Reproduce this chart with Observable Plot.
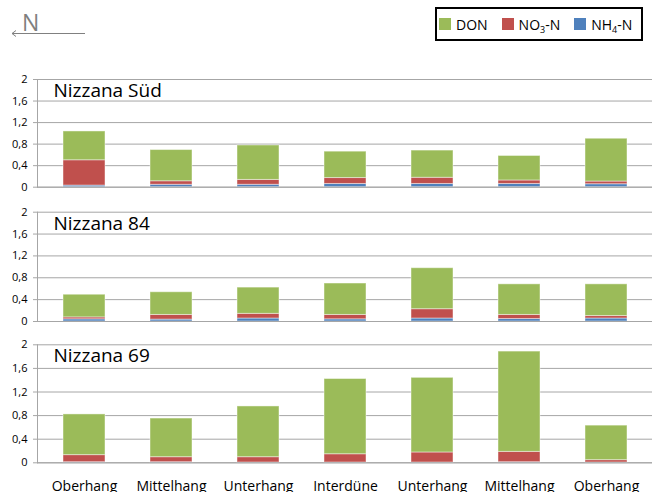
<!DOCTYPE html>
<html>
<head>
<meta charset="utf-8">
<script src="https://cdn.jsdelivr.net/npm/d3@7"></script>
<script src="https://cdn.jsdelivr.net/npm/@observablehq/plot@0.6"></script>
<style>
  html, body { margin: 0; padding: 0; background: #fff; }
  #chart { position: relative; width: 652px; height: 492px; overflow: hidden; font-family: "Open Sans", sans-serif; }
  #chart svg.panel { position: absolute; left: 0; overflow: visible; }
  #legend { position: absolute; left: 435px; top: 7px; width: 208px; height: 34px; box-sizing: border-box;
            border: 2px solid #000; display: flex; align-items: center; padding-left: 2px; font-size: 14px; color: #000; }
  #legend .item { display: flex; align-items: center; margin-right: 14px; white-space: nowrap; }
  #legend .item:last-child { margin-right: 0; }
  #legend .sw { width: 12px; height: 12px; margin-right: 5px; }
  #legend sub { font-size: 9px; vertical-align: -3px; line-height: 0; }
  #north { position: absolute; left: 0; top: 0; }
</style>
</head>
<body>
<div id="chart">
  <svg id="north" width="100" height="45">
    <text x="22" y="31" font-size="23" fill="#7f7f7f" font-family="Open Sans">N</text>
    <line x1="12" y1="33.5" x2="85" y2="33.5" stroke="#808080" stroke-width="1"></line>
    <polyline points="16,30.5 12,33.5 16,36.5" fill="none" stroke="#808080" stroke-width="1"></polyline>
  </svg>
  <div id="legend"></div>
</div>
<script>
// ---- data ----
const locations = ["Oberhang", "Mittelhang", "Unterhang", "Interdüne", "Unterhang", "Mittelhang", "Oberhang"];
const sites = ["Nizzana Süd", "Nizzana 84", "Nizzana 69"];
const series = ["NH4-N", "NO3-N", "DON"];            // stacking order, bottom to top
const legendOrder = ["DON", "NO3-N", "NH4-N"];
const colors = ["#4F81BD", "#C0504D", "#9BBB59"];   // NH4-N, NO3-N, DON
const yTicks = [0, 0.4, 0.8, 1.2, 1.6, 2];

const nh4_sued = [0.03, 0.045, 0.045, 0.06, 0.06, 0.06, 0.055];
const no3_sued = [0.47, 0.065, 0.09, 0.11, 0.115, 0.065, 0.05];
const don_sued = [0.535, 0.58, 0.64, 0.49, 0.505, 0.455, 0.795];

const nh4_84 = [0.04, 0.035, 0.055, 0.04, 0.055, 0.045, 0.055];
const no3_84 = [0.035, 0.085, 0.085, 0.08, 0.17, 0.075, 0.045];
const don_84 = [0.415, 0.415, 0.48, 0.575, 0.75, 0.56, 0.58];

const nh4_69 = [0.01, 0.01, 0.005, 0.005, 0.005, 0.01, 0.005];
const no3_69 = [0.12, 0.085, 0.09, 0.14, 0.17, 0.175, 0.04];
const don_69 = [0.69, 0.655, 0.86, 1.275, 1.265, 1.70, 0.585];

const siteValues = [
  [nh4_sued, no3_sued, don_sued],
  [nh4_84, no3_84, don_84],
  [nh4_69, no3_69, don_69]
];

// ---- layout per panel ----
const panels = [
  {top: 70,  height: 121, marginTop: 9,    marginBottom: 4.3,  xAxis: false},
  {top: 200, height: 125, marginTop: 11.7, marginBottom: 4,    xAxis: false},
  {top: 334, height: 160, marginTop: 10.3, marginBottom: 31.7, xAxis: true}
];

const fmt = d => String(d).replace(".", ",");
const chart = document.getElementById("chart");

sites.forEach((site, s) => {
  const rows = [];
  series.forEach((name, k) => {
    siteValues[s][k].forEach((v, i) => rows.push({i, series: name, value: v}));
  });
  const p = panels[s];
  const marks = [
    Plot.gridY(yTicks, {stroke: "#a6a6a6", strokeOpacity: 1}),
    Plot.axisY(yTicks, {tickSize: 4, tickPadding: 6, tickFormat: fmt, stroke: "#a6a6a6", fill: "#000", fontSize: 11, label: null}),
    Plot.frame({anchor: "left", stroke: "#a6a6a6"}),
    Plot.barY(rows, {
      x: "i", y: "value", fill: "series", order: series,
      stroke: "#ffffff", strokeOpacity: 0.45, strokeWidth: 1
    }),
    Plot.ruleY([0], {stroke: "#a6a6a6"}),
    Plot.text([site], {frameAnchor: "top-left", textAnchor: "start", lineAnchor: "top",
                       dx: 16, dy: 4, fontSize: 19, fill: "#000"})
  ];
  if (p.xAxis) {
    marks.push(Plot.axisX({tickSize: 0, tickPadding: 18, tickFormat: i => locations[i], fontSize: 14, fill: "#000", label: null}));
  }
  const svg = Plot.plot({
    width: 652,
    height: p.height,
    marginLeft: 37,
    marginRight: 0,
    marginTop: p.marginTop,
    marginBottom: p.marginBottom,
    style: {fontFamily: "Open Sans", fontSize: "11px", background: "transparent", color: "#000"},
    x: {type: "band", domain: d3.range(locations.length), paddingInner: 0.52, paddingOuter: 0.26, axis: null, label: null},
    y: {domain: [0, 2], axis: null, label: null},
    color: {domain: series, range: colors},
    marks
  });
  svg.classList.add("panel");
  svg.style.top = p.top + "px";
  chart.appendChild(svg);
});

// ---- legend ----
const legend = document.getElementById("legend");
legendOrder.forEach(name => {
  const item = document.createElement("div");
  item.className = "item";
  const sw = document.createElement("div");
  sw.className = "sw";
  sw.style.background = colors[series.indexOf(name)];
  const label = document.createElement("span");
  label.innerHTML = name.replace(/(\d)/, "<sub>$1</sub>");
  item.appendChild(sw);
  item.appendChild(label);
  legend.appendChild(item);
});
</script>
</body>
</html>
